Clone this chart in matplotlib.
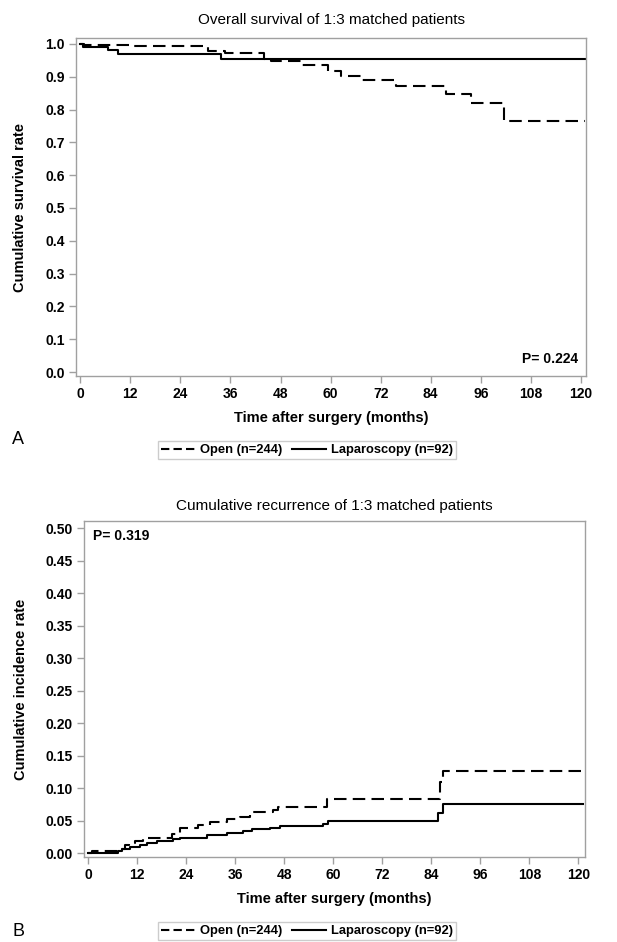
import matplotlib
matplotlib.use("Agg")
import matplotlib.pyplot as plt
from matplotlib.lines import Line2D

plt.rcParams['font.family'] = ['Liberation Sans', 'DejaVu Sans']

# ---- Data: overall survival (panel A) ----
os_open_t = [0, 1.0, 11.8, 30.6, 34.6, 44.1, 45.7, 52.9, 59.3, 62.5, 67.3, 75.7, 87.7, 93.7, 101.6, 121]
os_open_s = [1.0, 0.997, 0.994, 0.977, 0.973, 0.955, 0.947, 0.935, 0.918, 0.903, 0.889, 0.872, 0.847, 0.819, 0.765, 0.765]
os_lap_t = [0, 0.6, 6.6, 9.0, 33.8, 121]
os_lap_s = [1.0, 0.991, 0.980, 0.968, 0.955, 0.955]

# ---- Data: cumulative recurrence (panel B) ----
rec_open_t = [0, 0.9, 7.4, 9.0, 9.9, 11.5, 13.5, 20.5, 22.5, 27.0, 29.8, 33.9, 37.2, 39.6, 45.3, 46.5, 58.4, 86.1, 86.9, 121]
rec_open_v = [0.0, 0.004, 0.007, 0.012, 0.015, 0.018, 0.024, 0.030, 0.038, 0.043, 0.048, 0.053, 0.056, 0.063, 0.066, 0.071, 0.084, 0.110, 0.127, 0.127]
rec_lap_t = [0, 7.4, 8.4, 10.3, 12.7, 14.3, 16.8, 20.9, 22.5, 29.0, 33.9, 38.0, 40.0, 44.5, 46.9, 57.5, 58.8, 85.7, 86.9, 121]
rec_lap_v = [0.0, 0.004, 0.007, 0.009, 0.012, 0.015, 0.018, 0.021, 0.024, 0.028, 0.031, 0.034, 0.037, 0.039, 0.041, 0.045, 0.050, 0.062, 0.075, 0.075]

x_ticks = [0, 12, 24, 36, 48, 60, 72, 84, 96, 108, 120]
os_yticks = [0.0, 0.1, 0.2, 0.3, 0.4, 0.5, 0.6, 0.7, 0.8, 0.9, 1.0]
rec_yticks = [0.00, 0.05, 0.10, 0.15, 0.20, 0.25, 0.30, 0.35, 0.40, 0.45, 0.50]
labels = ["Open (n=244)", "Laparoscopy (n=92)"]

fig = plt.figure(figsize=(6.17, 9.42), dpi=100)
W, H = 617, 942

def px_axes(l, t, r, b):
    return fig.add_axes([l / W, 1 - b / H, (r - l) / W, (b - t) / H])

spine_c = '#a0a0a0'
dash = (6, 3)

def style(ax):
    for s in ax.spines.values():
        s.set_color(spine_c)
        s.set_linewidth(1.0)
    ax.tick_params(axis='both', direction='out', length=5, width=1.0, color=spine_c,
                   labelsize=10, pad=3)
    for lab in ax.get_xticklabels() + ax.get_yticklabels():
        lab.set_fontweight('bold')

# Panel A
ax1 = px_axes(76, 38, 586, 376)
ax1.step(os_open_t, os_open_s, where='post', color='black', lw=1.5, dashes=dash)
ax1.step(os_lap_t, os_lap_s, where='post', color='black', lw=1.5)
ax1.set_xlim(-1.0, 121.2)
ax1.set_ylim(-0.012, 1.018)
ax1.set_xticks(x_ticks)
ax1.set_yticks(os_yticks)
ax1.set_yticklabels([f"{v:.1f}" for v in os_yticks])
style(ax1)
ax1.set_title("Overall survival of 1:3 matched patients", fontsize=11, pad=10)
ax1.set_xlabel("Time after surgery (months)", fontsize=10.5, fontweight='bold', labelpad=7)
ax1.set_ylabel("Cumulative survival rate", fontsize=10.5, fontweight='bold', labelpad=13)
ax1.text(0.985, 0.03, "P= 0.224", transform=ax1.transAxes, ha='right', va='bottom',
         fontsize=10, fontweight='bold')

# Panel B
ax2 = px_axes(84, 521, 585, 857)
ax2.step(rec_open_t, rec_open_v, where='post', color='black', lw=1.5, dashes=dash)
ax2.step(rec_lap_t, rec_lap_v, where='post', color='black', lw=1.5)
ax2.set_xlim(-1.0, 121.6)
ax2.set_ylim(-0.006, 0.511)
ax2.set_xticks(x_ticks)
ax2.set_yticks(rec_yticks)
ax2.set_yticklabels([f"{v:.2f}" for v in rec_yticks])
style(ax2)
ax2.set_title("Cumulative recurrence of 1:3 matched patients", fontsize=11, pad=8)
ax2.set_xlabel("Time after surgery (months)", fontsize=10.5, fontweight='bold', labelpad=7)
ax2.set_ylabel("Cumulative incidence rate", fontsize=10.5, fontweight='bold', labelpad=13)
ax2.text(0.018, 0.975, "P= 0.319", transform=ax2.transAxes, ha='left', va='top',
         fontsize=10, fontweight='bold')

handles = [Line2D([], [], color='black', lw=1.5, dashes=(4, 2)),
           Line2D([], [], color='black', lw=1.5)]

for y_px in (450, 931):
    leg = fig.legend(handles, labels, loc='center', bbox_to_anchor=(307 / W, 1 - y_px / H),
                     ncol=2, frameon=True, fancybox=False, handlelength=2.6,
                     handletextpad=0.4, columnspacing=0.8, borderpad=0.25,
                     prop={'weight': 'bold', 'size': 9.3})
    leg.get_frame().set_edgecolor('#c0c0c0')
    leg.get_frame().set_linewidth(1.0)

fig.text(18 / W, 1 - 439 / H, "A", fontsize=13, ha='center', va='center')
fig.text(18 / W, 1 - 931 / H, "B", fontsize=13, ha='center', va='center')

fig.savefig("out.png", dpi=100)
